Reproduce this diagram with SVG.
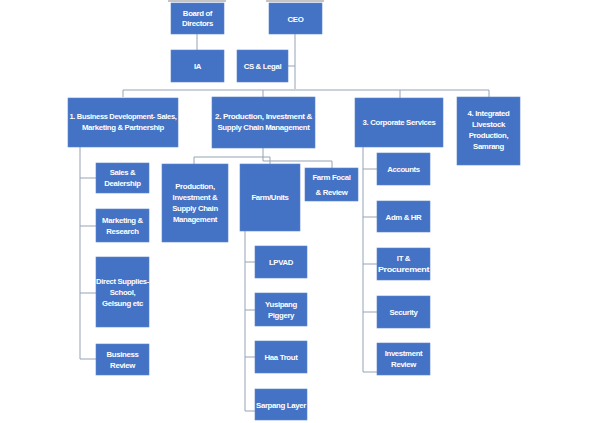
<svg xmlns="http://www.w3.org/2000/svg" width="590" height="423" viewBox="0 0 590 423">
<style>
.b{fill:#4472C4;stroke:#5b84cc;stroke-width:0.6}
.t{fill:#fff;font-family:"Liberation Sans",Arial,sans-serif;font-size:7.8px;font-weight:bold;text-anchor:middle;letter-spacing:-0.35px}
.c{fill:none;stroke:#97a3b6;stroke-width:1}
</style>
<rect width="590" height="423" fill="#fff"/>
<rect x="168" y="0" width="58" height="2" fill="#c4c4c4"/>
<rect x="266" y="0" width="58" height="2" fill="#c4c4c4"/>
<g id="connectors" class="c">
<path d="M197 34V50"/>
<path d="M295 34V89M288 66H295"/>
<path d="M123 97V90H489V97M263 90V97M400 90V98"/>
<path d="M80 147V359M80 178H96M80 226H96M80 293H96M80 359H96"/>
<path d="M263 148V161H332V168M194 164V157H270V164"/>
<path d="M245 231V411H255M245 262H255M245 310H255M245 357H255"/>
<path d="M363 147V372H377M363 169H377M363 217H377M363 264H377M363 312H377"/>
</g>
<g id="board"><rect class="b" x="171" y="3" width="53" height="31"/><text class="t" x="197.5" y="16">Board of</text><text class="t" x="197.5" y="26">Directors</text></g>
<g id="ceo"><rect class="b" x="269" y="3" width="53" height="31"/><text class="t" x="295.5" y="21.5">CEO</text></g>
<g id="ia"><rect class="b" x="171" y="50" width="53" height="32"/><text class="t" x="197.5" y="69">IA</text></g>
<g id="cslegal"><rect class="b" x="237" y="50" width="51" height="32"/><text class="t" x="262.5" y="69">CS &amp; Legal</text></g>
<g id="bizdev"><rect class="b" x="68" y="98" width="110" height="49"/><text class="t" x="123" y="119" textLength="107" lengthAdjust="spacingAndGlyphs">1.  Business Development- Sales,</text><text class="t" x="123" y="130">Marketing &amp; Partnership</text></g>
<g id="production"><rect class="b" x="212" y="97" width="103" height="51"/><text class="t" x="263.5" y="119" textLength="97" lengthAdjust="spacingAndGlyphs">2. Production, Investment  &amp;</text><text class="t" x="263.5" y="130" textLength="92" lengthAdjust="spacingAndGlyphs">Supply Chain Management</text></g>
<g id="corporate"><rect class="b" x="355" y="98" width="88" height="49"/><text class="t" x="399" y="125">3. Corporate Services</text></g>
<g id="livestock"><rect class="b" x="457" y="97" width="63" height="68"/><text class="t" x="488.5" y="116">4. Integrated</text><text class="t" x="488.5" y="127">Livestock</text><text class="t" x="488.5" y="138">Production,</text><text class="t" x="488.5" y="149">Samrang</text></g>
<g id="sales"><rect class="b" x="96" y="163" width="53" height="30"/><text class="t" x="122.5" y="175">Sales &amp;</text><text class="t" x="122.5" y="186">Dealership</text></g>
<g id="marketing"><rect class="b" x="96" y="209" width="53" height="33"/><text class="t" x="122.5" y="223">Marketing &amp;</text><text class="t" x="122.5" y="234">Research</text></g>
<g id="direct"><rect class="b" x="96" y="257" width="53" height="70"/><text class="t" x="122.5" y="284" textLength="53" lengthAdjust="spacingAndGlyphs">Direct Supplies-</text><text class="t" x="122.5" y="295">School,</text><text class="t" x="122.5" y="306">Gelsung etc</text></g>
<g id="bizreview"><rect class="b" x="96" y="344" width="53" height="31"/><text class="t" x="122.5" y="357">Business</text><text class="t" x="122.5" y="368">Review</text></g>
<g id="prodsub"><rect class="b" x="162" y="164" width="66" height="78"/><text class="t" x="195" y="189">Production,</text><text class="t" x="195" y="200">Investment &amp;</text><text class="t" x="195" y="211">Supply Chain</text><text class="t" x="195" y="222">Management</text></g>
<g id="farmunits"><rect class="b" x="240" y="164" width="60" height="67"/><text class="t" x="270" y="200">Farm/Units</text></g>
<g id="farmfocal"><rect class="b" x="305" y="168" width="53" height="33"/><text class="t" x="331.5" y="180">Farm Focal</text><text class="t" x="331.5" y="195">&amp; Review</text></g>
<g id="lpvad"><rect class="b" x="255" y="246" width="52" height="32"/><text class="t" x="281" y="265">LPVAD</text></g>
<g id="yusipang"><rect class="b" x="255" y="293" width="52" height="33"/><text class="t" x="281" y="307">Yusipang</text><text class="t" x="281" y="318">Piggery</text></g>
<g id="haa"><rect class="b" x="255" y="341" width="52" height="32"/><text class="t" x="281" y="360">Haa Trout</text></g>
<g id="sarpang"><rect class="b" x="255" y="389" width="52" height="31"/><text class="t" x="281" y="408" textLength="50" lengthAdjust="spacingAndGlyphs">Sarpang Layer</text></g>
<g id="accounts"><rect class="b" x="377" y="153" width="53" height="32"/><text class="t" x="403.5" y="172">Accounts</text></g>
<g id="admhr"><rect class="b" x="377" y="201" width="53" height="31"/><text class="t" x="403.5" y="219.5">Adm &amp; HR</text></g>
<g id="itproc"><rect class="b" x="377" y="248" width="53" height="32"/><text class="t" x="403.5" y="261">IT &amp;</text><text class="t" x="403.5" y="272" textLength="51" lengthAdjust="spacingAndGlyphs">Procurement</text></g>
<g id="security"><rect class="b" x="377" y="296" width="53" height="32"/><text class="t" x="403.5" y="315">Security</text></g>
<g id="invreview"><rect class="b" x="377" y="343" width="53" height="32"/><text class="t" x="403.5" y="356">Investment</text><text class="t" x="403.5" y="367">Review</text></g>
</svg>
